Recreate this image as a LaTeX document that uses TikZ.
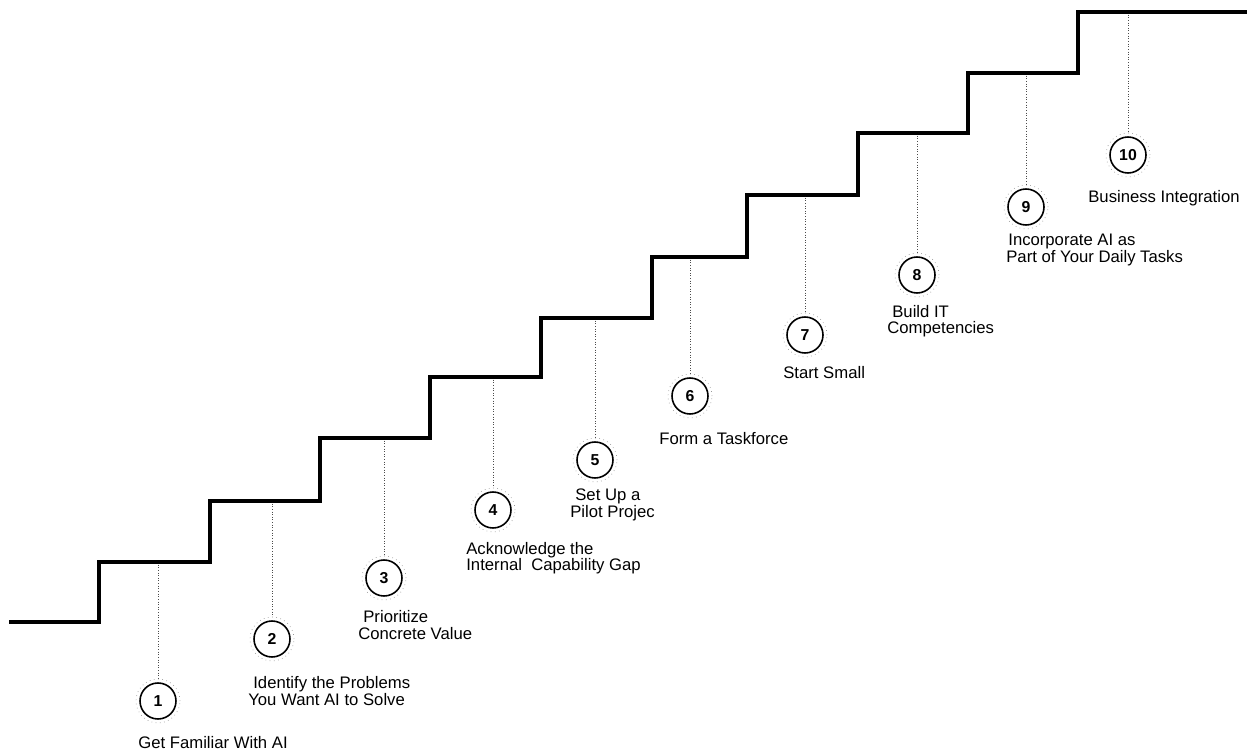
\documentclass[tikz,border=0pt]{standalone}
\usepackage{fontspec}
\setmainfont{Liberation Sans}

\begin{document}
\begin{tikzpicture}[x=0.02cm, y=-0.02cm,
    stair/.style={line width=2.8pt, line join=miter},
    leader/.style={densely dotted, gray!60!black, line width=0.5pt},
    stepnum/.style={circle, draw=gray!80, dotted, line width=0.4pt, minimum size=0.88cm, inner sep=0pt,
      font=\fontsize{9}{9}\selectfont\bfseries,
      path picture={\draw[black, solid, line width=0.9pt] (path picture bounding box.center) circle (0.36cm);}},
    steptext/.style={anchor=west, inner sep=0pt, align=left, font=\fontsize{9.5}{9.3}\selectfont}]
              \useasboundingbox (0,0) rectangle (1254,753);
              % Tread points
              \coordinate (t1) at (158,562);
              \coordinate (t2) at (272,501);
              \coordinate (t3) at (384,438);
              \coordinate (t4) at (493,377);
              \coordinate (t5) at (595,318);
              \coordinate (t6) at (690,257);
              \coordinate (t7) at (805,195);
              \coordinate (t8) at (917,133);
              \coordinate (t9) at (1026,73);
              \coordinate (t10) at (1128,12);
              % Numbered circles
              \node[stepnum] (c1) at (158,701) {1};
              \node[stepnum] (c2) at (272,639) {2};
              \node[stepnum] (c3) at (384,578) {3};
              \node[stepnum] (c4) at (493,510) {4};
              \node[stepnum] (c5) at (595,460) {5};
              \node[stepnum] (c6) at (690,396) {6};
              \node[stepnum] (c7) at (805,335) {7};
              \node[stepnum] (c8) at (917,275) {8};
              \node[stepnum] (c9) at (1026,207) {9};
              \node[stepnum] (c10) at (1128,155) {10};
              % Leaders from the steps
              \draw[leader] (t1)--(c1.north);
              \draw[leader] (t2)--(c2.north);
              \draw[leader] (t3)--(c3.north);
              \draw[leader] (t4)--(c4.north);
              \draw[leader] (t5)--(c5.north);
              \draw[leader] (t6)--(c6.north);
              \draw[leader] (t7)--(c7.north);
              \draw[leader] (t8)--(c8.north);
              \draw[leader] (t9)--(c9.north);
              \draw[leader] (t10)--(c10.north);
              % Staircase
              \draw[stair] (9,622)--(99,622)--(99,562)--(210,562)--(210,501)--(320,501)--(320,438)--(430,438)--(430,377)
                --(541,377)--(541,318)--(652,318)--(652,257)--(747,257)--(747,195)--(858,195)--(858,133)
                --(968,133)--(968,73)--(1078,73)--(1078,12)--(1247,12);
              % Step labels
              \node[steptext] (l1) at (138,743) {Get Familiar With AI};
              \node[steptext] (l2) at (248,691) {\hspace*{0.1cm}Identify the Problems\\You Want AI to Solve};
              \node[steptext] (l3) at (358,625) {\hspace*{0.1cm}Prioritize\\Concrete Value};
              \node[steptext] (l4) at (466,558) {Acknowledge the\\Internal\ \ Capability Gap};
              \node[steptext] (l5) at (570,505) {\hspace*{0.1cm}Set Up a\\Pilot Projec};
              \node[steptext] (l6) at (659,439) {Form a Taskforce};
              \node[steptext] (l7) at (783,373) {Start Small};
              \node[steptext] (l8) at (887,321) {\hspace*{0.1cm}Build IT\\Competencies};
              \node[steptext] (l9) at (1006,250) {\hspace*{0.04cm}Incorporate AI as\\Part of Your Daily Tasks};
              \node[steptext] (l10) at (1088,198) {Business Integration};
\end{tikzpicture}
\end{document}
